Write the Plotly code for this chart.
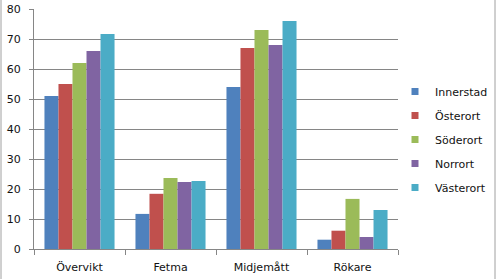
import plotly.graph_objects as go

categories = ["Övervikt", "Fetma", "Midjemått", "Rökare"]
innerstad = [51, 11.7, 54, 3.1]
osterort = [55, 18.4, 67, 6.1]
soderort = [62, 23.7, 73, 16.7]
norrort = [66, 22.3, 68, 4.0]
vasterort = [71.7, 22.7, 76, 13]

series = [
    ("Innerstad", innerstad, "#4F81BD"),
    ("Österort", osterort, "#C0504D"),
    ("Söderort", soderort, "#9BBB59"),
    ("Norrort", norrort, "#8064A2"),
    ("Västerort", vasterort, "#4BACC6"),
]

fig = go.Figure()
for i, (name, vals, color) in enumerate(series):
    fig.add_trace(go.Bar(x=categories, y=vals, name=name, marker_color=color,
                         marker_line_width=0, showlegend=False))
for i, (name, vals, color) in enumerate(series):
    fig.add_trace(go.Scatter(x=[categories[0]], y=[None], name=name, mode="markers",
                             marker=dict(symbol="square", size=7, color=color),
                             legendgroup=f"g{i}", showlegend=True))

grid = "#868686"
font = dict(family="DejaVu Sans", size=11, color="#111111")

fig.update_layout(
    template="none",
    width=496, height=279,
    margin=dict(l=34, r=98, t=9, b=30, autoexpand=False),
    paper_bgcolor="white", plot_bgcolor="white",
    font=font,
    barmode="group", bargap=0.23, bargroupgap=0,
    legend=dict(xref="container", yref="container", x=395/496, xanchor="left",
                y=0.5, yanchor="middle", itemsizing="trace",
                traceorder="grouped", tracegroupgap=5,
                font=font, bgcolor="rgba(0,0,0,0)"),
    xaxis=dict(showline=True, linecolor=grid, linewidth=1, ticks="outside",
               tickson="boundaries", ticklen=5, tickcolor=grid, automargin=False,
               showgrid=False, tickfont=font, ticklabelstandoff=8),
    yaxis=dict(range=[0, 80], dtick=10, showline=True, linecolor=grid, linewidth=1,
               ticks="outside", ticklen=4, tickcolor=grid, showgrid=True, automargin=False,
               gridcolor=grid, gridwidth=1, zeroline=False, tickfont=font,
               ticklabelstandoff=6),
    shapes=[
        dict(type="line", xref="paper", yref="paper", x0=-33/364, x1=-33/364,
             y0=-30/240, y1=1+9/240, line=dict(color="#A0A0A0", width=1)),
        dict(type="line", xref="paper", yref="paper", x0=1+97/364, x1=1+97/364,
             y0=-30/240, y1=1+9/240, line=dict(color="#A0A0A0", width=1)),
    ],
)

fig.write_html("out.html")
